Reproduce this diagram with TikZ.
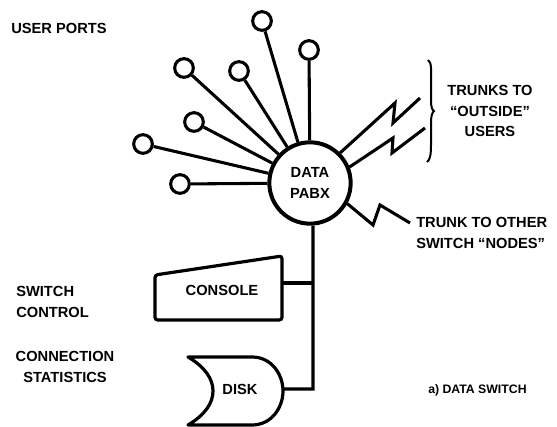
\documentclass[tikz,border=0pt]{standalone}
\usepackage{fontspec}
\setmainfont{Liberation Sans}
\begin{document}
\begin{tikzpicture}[x=0.75pt,y=-0.75pt,
  lbl/.style={font=\fontsize{11}{15.5}\selectfont\bfseries, inner sep=0pt},
  port/.style={circle, draw, line width=2.3pt, minimum size=14pt, inner sep=0pt},
  wire/.style={line width=2.3pt},
  bolt/.style={line width=2.3pt, line join=miter}]
\useasboundingbox (0,0) rectangle (557,427);

% central switch
\node[circle, draw, line width=3pt, minimum size=61pt, inner sep=0pt, align=center,
      font=\fontsize{11}{15.5}\selectfont\bfseries] (pabx) at (310,183) {DATA\\PABX};

% user ports
\node[port] (p1) at (262,21) {};
\node[port] (p2) at (309,50) {};
\node[port] (p3) at (184,68) {};
\node[port] (p4) at (239,71) {};
\node[port] (p5) at (194,122) {};
\node[port] (p6) at (143,144) {};
\node[port] (p7) at (180,184) {};
\foreach \p in {p1,p2,p3,p4,p5,p6,p7} \draw[wire] (\p) -- (pabx);

% trunks
\coordinate (t1) at (420,98);
\coordinate (t2) at (425,128);
\coordinate (t3) at (410,223);
\draw[bolt] (pabx.45) -- (395,103) -- (393,123) -- (t1);
\draw[bolt] (pabx.22) -- (393,138) -- (392,153) -- (t2);
\draw[bolt] (pabx.-29) -- (373,225) -- (380,205) -- (t3);

% brace
\draw[line width=1.5pt] (428,60) .. controls (432,62) and (431,72) .. (431,82)
  -- (431,100) .. controls (431,107) and (432,110) .. (434,111)
  .. controls (432,113) and (431,116) .. (431,123)
  -- (431,145) .. controls (431,155) and (430,160) .. (427,162);

\node[lbl, align=center] (tout) at (490,111) {TRUNKS TO\\“OUTSIDE”\\USERS};
\node[lbl, align=left, anchor=west] (tother) at (416,233) {TRUNK TO OTHER\\SWITCH “NODES”};

% console
\draw[line width=2.4pt, rounded corners=2pt] (155,275) -- (282,256) -- (282,320) -- (155,320) -- cycle;
\node[lbl] (console) at (222,290) {CONSOLE};
\coordinate (consE) at (282,283);

% disk
\draw[line width=2.4pt, line join=round] (188,357) -- (252,357)
  .. controls (272,357) and (283,375) .. (283,391)
  .. controls (283,407) and (272,425) .. (252,425)
  -- (188,425)
  .. controls (205,415) and (213,403) .. (213,391)
  .. controls (213,379) and (205,367) .. (188,357) -- cycle;
\node[lbl] (disk) at (240,389) {DISK};
\coordinate (diskE) at (283,389);

% bus
\coordinate (bus) at (313,389);
\draw[wire] (pabx.-86) -- (bus) -- (diskE);
\draw[wire] (consE) -- (consE -| bus);

% labels
\node[lbl, anchor=west] (up) at (11,28) {USER PORTS};
\node[lbl, align=left, anchor=west] (sc) at (16,302) {SWITCH\\CONTROL};
\node[lbl, align=center] (cs) at (65,367) {CONNECTION\\STATISTICS};
\node[font=\fontsize{9.2}{12}\selectfont\bfseries, inner sep=0pt, anchor=west] (cap) at (428,390) {a) DATA SWITCH};
\end{tikzpicture}
\end{document}
